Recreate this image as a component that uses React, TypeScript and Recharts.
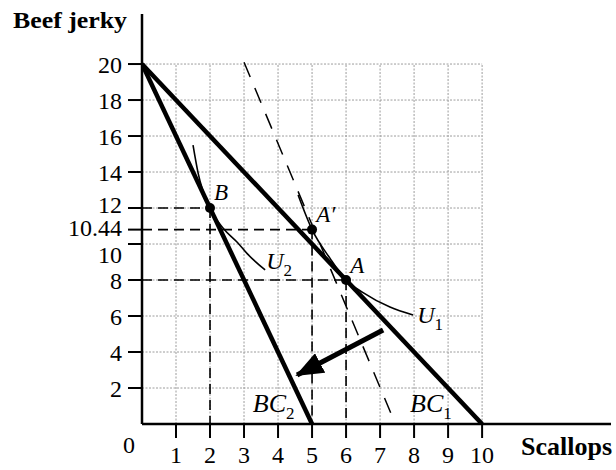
import React from 'react';
import { ComposedChart, Line, XAxis, YAxis, ReferenceDot } from 'recharts';

// ---- data ----
const X_TICKS = [1, 2, 3, 4, 5, 6, 7, 8, 9, 10];
const Y_TICKS = [0, 2, 4, 6, 8, 10, 10.8, 12, 14, 16, 18, 20];
const Y_TICK_LABELS = ['0', '2', '4', '6', '8', '10', '10.44', '12', '14', '16', '18', '20'];
const GRID_X = [1, 2, 3, 4, 5, 6, 7, 8, 9, 10];
const GRID_Y = [2, 4, 6, 8, 10, 12, 14, 16, 18, 20];

const BC1 = [{ x: 0, y: 20 }, { x: 10, y: 0 }];
const BC2 = [{ x: 0, y: 20 }, { x: 5, y: 0 }];
const COMPENSATED = [{ x: 3, y: 20.1 }, { x: 7.45, y: 0 }];
const U1 = [
  { x: 4.59, y: 12.72 },
  { x: 5, y: 10.8 },
  { x: 5.53, y: 9.2 },
  { x: 6, y: 8 },
  { x: 6.5, y: 7.3 },
  { x: 7.29, y: 6.5 },
  { x: 7.97, y: 6.06 },
];
const U2 = [
  { x: 1.5, y: 15.5 },
  { x: 1.65, y: 13.94 },
  { x: 2, y: 12 },
  { x: 2.4, y: 10.85 },
  { x: 2.8, y: 10.1 },
  { x: 3.1, y: 9.45 },
  { x: 3.62, y: 8.56 },
];
const POINTS = [
  { name: 'B', x: 2, y: 12 },
  { name: "A'", x: 5, y: 10.8 },
  { name: 'A', x: 6, y: 8 },
];
const SHIFT_ARROW = [{ x: 7.09, y: 5.22 }, { x: 4.56, y: 2.72 }];

// annotation text anchors (data coordinates)
const ANNOTATIONS = [
  { text: 'B', sub: '', x: 2.12, y: 12.44, size: 23 },
  { text: 'A′', sub: '', x: 5.12, y: 11.22, size: 23 },
  { text: 'A', sub: '', x: 6.12, y: 8.39, size: 23 },
  { text: 'U', sub: '2', x: 3.65, y: 8.61, size: 24 },
  { text: 'U', sub: '1', x: 8.09, y: 5.61, size: 24 },
  { text: 'BC', sub: '2', x: 3.26, y: 0.67, size: 26 },
  { text: 'BC', sub: '1', x: 7.88, y: 0.67, size: 26 },
];

const FONT = '"Liberation Serif", "Times New Roman", Times, serif';

const gridVertical = GRID_X.map((gx) => [{ x: gx, y: 0 }, { x: gx, y: 20 }]);
const gridHorizontal = GRID_Y.map((gy) => [{ x: 0, y: gy }, { x: 10, y: gy }]);
const guideH = POINTS.map((p) => [{ x: 0, y: p.y }, { x: p.x, y: p.y }]);
const guideV = POINTS.map((p) => [{ x: p.x, y: p.y }, { x: p.x, y: 0 }]);

const YTick = (props: any) => {
  const { x, y, payload } = props;
  const idx = Y_TICKS.indexOf(payload.value);
  const label = idx >= 0 ? Y_TICK_LABELS[idx] : String(payload.value);
  if (payload.value === 0) {
    return (
      <text x={x + 13} y={y + 20} dy="0.36em" textAnchor="end" fontFamily={FONT} fontSize={24} fill="#000">
        {label}
      </text>
    );
  }
  let dy = 0;
  if (payload.value === 12) dy = -4;
  if (payload.value === 10) dy = 10;
  if (payload.value === 10.8) dy = -2;
  return (
    <g>
      <line x1={x + 6} x2={x + 20} y1={y} y2={y} stroke="#000" strokeWidth={2} />
      <text x={x} y={y + dy} dy="0.36em" textAnchor="end" fontFamily={FONT} fontSize={24} fill="#000">
        {label}
      </text>
    </g>
  );
};

const makeAnnotation = (a: any) => (props: any) => {
  const vb = props.viewBox || {};
  const cx = (vb.x ?? 0) + (vb.width ?? 0) / 2;
  const cy = (vb.y ?? 0) + (vb.height ?? 0) / 2;
  return (
    <text x={cx} y={cy} fontFamily={FONT} fontStyle="italic" fontSize={a.size} fill="#000">
      <tspan>{a.text}</tspan>
      {a.sub ? (
        <tspan fontStyle="normal" fontSize={17} dy={7}>
          {a.sub}
        </tspan>
      ) : null}
    </text>
  );
};

const YTitle = (props: any) => {
  const vb = props.viewBox || {};
  const right = (vb.x ?? 141) + (vb.width ?? 1);
  return (
    <text x={right - 15} y={(vb.y ?? 14) + 14} textAnchor="end" fontFamily={FONT} fontWeight="bold" fontSize={23} fill="#000" textLength={114} lengthAdjust="spacingAndGlyphs">
      Beef jerky
    </text>
  );
};

const XTitle = (props: any) => {
  const vb = props.viewBox || {};
  return (
    <text x={(vb.x ?? 142) + (vb.width ?? 469) + 1} y={(vb.y ?? 424) + 31} textAnchor="end" fontFamily={FONT} fontWeight="bold" fontSize={26} fill="#000">
      Scallops
    </text>
  );
};

const lineBase = {
  dataKey: 'y',
  type: 'linear' as const,
  dot: false,
  activeDot: false,
  isAnimationActive: false,
  legendType: 'none' as const,
};

export default function App() {
  return (
    <div style={{ position: 'absolute', left: 0, top: 0, width: 616, height: 470, background: '#fff' }}>
      <svg width={0} height={0} style={{ position: 'absolute' }}>
        <defs>
          <marker id="shiftArrowHead" markerUnits="userSpaceOnUse" markerWidth={28} markerHeight={22} viewBox="0 0 28 22" refX={26} refY={11} orient="auto">
            <path d="M0,0 L28,11 L0,22 Z" fill="#000" />
          </marker>
        </defs>
      </svg>
      <ComposedChart width={616} height={470} margin={{ top: 14, right: 5, bottom: 45, left: 141 }}>
        <XAxis
          dataKey="x"
          type="number"
          domain={[0, 13.79]}
          ticks={X_TICKS}
          height={1}
          tickSize={14}
          tickMargin={8}
          interval={0}
          allowDataOverflow
          axisLine={{ stroke: '#000', strokeWidth: 2.5 }}
          tickLine={{ stroke: '#000', strokeWidth: 2 }}
          tick={{ fill: '#000', fontSize: 24, fontFamily: FONT }}
          label={{ content: XTitle }}
        />
        <YAxis
          type="number"
          domain={[0, 22.78]}
          ticks={Y_TICKS}
          width={1}
          tickSize={14}
          tickMargin={6}
          interval={0}
          allowDataOverflow
          axisLine={{ stroke: '#000', strokeWidth: 2.5 }}
          tickLine={false}
          tick={<YTick />}
          label={{ content: YTitle }}
        />
        {gridVertical.map((d, i) => (
          <Line key={`gv${i}`} {...lineBase} data={d} stroke="#9c9c9c" strokeWidth={1} strokeDasharray="2 1.5" />
        ))}
        {gridHorizontal.map((d, i) => (
          <Line key={`gh${i}`} {...lineBase} data={d} stroke="#9c9c9c" strokeWidth={1} strokeDasharray="2 1.5" />
        ))}
        {guideH.map((d, i) => (
          <Line key={`hh${i}`} {...lineBase} data={d} stroke="#000" strokeWidth={1.6} strokeDasharray="10 6" />
        ))}
        {guideV.map((d, i) => (
          <Line key={`vv${i}`} {...lineBase} data={d} stroke="#000" strokeWidth={1.6} strokeDasharray="10 6" />
        ))}
        <Line {...lineBase} data={COMPENSATED} stroke="#000" strokeWidth={1.5} strokeDasharray="16 12" />
        <Line {...lineBase} data={U1} type="monotone" stroke="#000" strokeWidth={1.6} />
        <Line {...lineBase} data={U2} type="monotone" stroke="#000" strokeWidth={1.6} />
        <Line {...lineBase} data={BC1} stroke="#000" strokeWidth={4.5} />
        <Line {...lineBase} data={BC2} stroke="#000" strokeWidth={4.5} />
        <Line {...lineBase} data={SHIFT_ARROW} stroke="#000" strokeWidth={5} markerEnd="url(#shiftArrowHead)" />
        {POINTS.map((p) => (
          <ReferenceDot key={`pt${p.name}`} x={p.x} y={p.y} r={5} fill="#000" stroke="none" ifOverflow="visible" />
        ))}
        {ANNOTATIONS.map((a, i) => (
          <ReferenceDot
            key={`an${i}`}
            x={a.x}
            y={a.y}
            r={0}
            fill="none"
            stroke="none"
            ifOverflow="visible"
            label={{ content: makeAnnotation(a) }}
          />
        ))}
      </ComposedChart>
    </div>
  );
}
